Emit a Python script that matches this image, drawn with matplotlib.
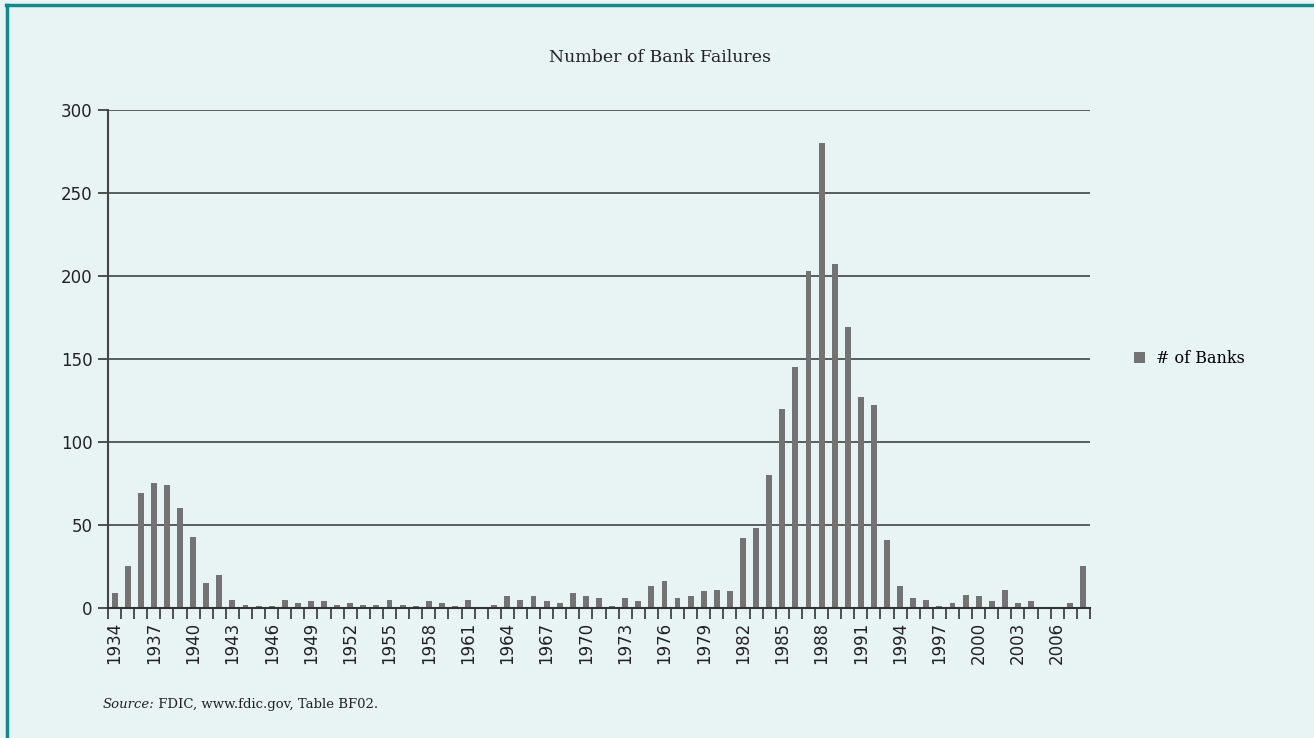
import matplotlib
matplotlib.use("Agg")
import matplotlib.pyplot as plt
import numpy as np
from matplotlib.lines import Line2D

# Data
years = list(range(1934, 2009))
banks = [9, 25, 69, 75, 74, 60, 43, 15, 20, 5,
         2, 1, 1, 5, 3, 4, 4, 2, 3, 2,
         2, 5, 2, 1, 4, 3, 1, 5, 0, 2,
         7, 5, 7, 4, 3, 9, 7, 6, 1, 6,
         4, 13, 16, 6, 7, 10, 11, 10, 42, 48,
         80, 120, 145, 203, 280, 207, 169, 127, 122, 41,
         13, 6, 5, 1, 3, 8, 7, 4, 11, 3,
         4, 0, 0, 3, 25]

bg = '#e8f4f4'
bar_color = '#737373'
serif = 'DejaVu Serif'

fig = plt.figure(figsize=(13.14, 7.38), dpi=100, facecolor=bg)
ax = fig.add_axes([0.0822, 0.1762, 0.7473, 0.6748])
ax.set_facecolor(bg)

x = np.arange(len(years))
ax.bar(x, banks, width=0.45, color=bar_color, zorder=3, label='# of Banks')

ax.set_xlim(-0.5, len(years) - 0.5)
ax.set_ylim(0, 300)
ax.set_yticks(range(0, 301, 50))
ax.grid(axis='y', color='#333333', linewidth=1.1, zorder=1)

# tick marks between categories, labels every third year
ax.set_xticks(np.arange(-0.5, len(years), 1))
ax.set_xticklabels([])
ax.tick_params(axis='x', which='major', length=8, width=1.2, color='#333333')
ax.set_xticks(x[::3], minor=True)
ax.set_xticklabels([str(y) for y in years[::3]], minor=True, rotation=90,
                   fontsize=12, color='#222222')
ax.tick_params(axis='x', which='minor', length=0, pad=10)
ax.tick_params(axis='y', length=7, width=1.2, color='#333333', labelsize=12,
               labelcolor='#222222', pad=4)

for s in ['top', 'right']:
    ax.spines[s].set_visible(False)
ax.spines['left'].set_color('#444444')
ax.spines['left'].set_linewidth(1.5)
ax.spines['bottom'].set_color('#333333')
ax.spines['bottom'].set_linewidth(1.5)
ax.spines['bottom'].set_zorder(4)

fig.text(0.502, 0.922, 'Number of Bank Failures', ha='center', va='center',
         fontsize=12.5, family=serif, color='#222222')

ax.legend(loc='center left', bbox_to_anchor=(1.03, 0.5), frameon=False,
          prop={'family': serif, 'size': 11.5}, handlelength=0.7,
          handleheight=0.7, handletextpad=0.7)

src = fig.text(0.078, 0.041, 'Source:', style='italic', fontsize=9.5,
               family=serif, color='#222222', ha='left', va='baseline')
fig.canvas.draw()
ax.annotate(' FDIC, www.fdic.gov, Table BF02.', xy=(1, 0), xycoords=src,
            va='bottom', ha='left', fontsize=9.5, family=serif,
            color='#222222', annotation_clip=False)

# teal frame on top and left
teal = '#138a8a'
fig.add_artist(Line2D([0.0045, 1.0], [0.9935, 0.9935], color=teal, lw=2.5,
                      transform=fig.transFigure))
fig.add_artist(Line2D([0.0055, 0.0055], [0.0, 0.9935], color=teal, lw=2.5,
                      transform=fig.transFigure))

fig.savefig('out.png', dpi=100, facecolor=bg)
